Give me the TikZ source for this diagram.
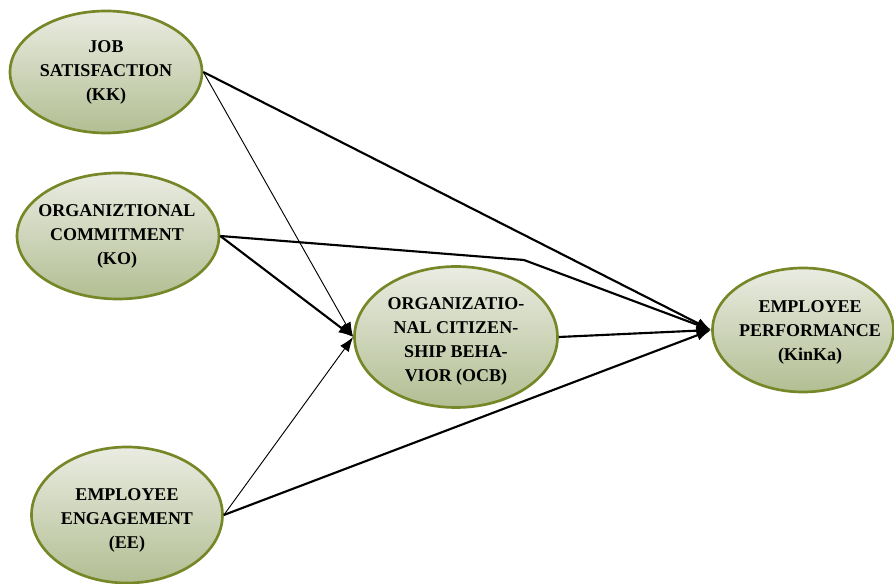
\documentclass[tikz,border=0pt]{standalone}
\usepackage{fontspec}
\setmainfont{Liberation Serif}
\usetikzlibrary{shapes.geometric,arrows.meta}
\definecolor{rim}{RGB}{118,135,40}
\definecolor{topfill}{RGB}{234,236,226}
\definecolor{botfill}{RGB}{178,190,146}
\tikzset{
  ell/.style={ellipse, draw=rim, line width=2pt, top color=topfill, bottom color=botfill, inner sep=0pt},
  lbl/.style={align=center, font=\fontsize{13.5}{18}\selectfont\bfseries, inner sep=0pt},
  thickarrow/.style={line width=1.6pt, -{Latex[length=11pt,width=8pt]}},
  thinarrow/.style={line width=0.7pt, -{Latex[length=11pt,width=8pt]}},
  thickline/.style={line width=1.6pt}
}
\begin{document}
\begin{tikzpicture}[x=0.75pt,y=-0.75pt]
\useasboundingbox (0,0) rectangle (894,584);
% ellipses
\node[ell, minimum width=144pt, minimum height=91.5pt] (js) at (106,72) {};
\node[ell, minimum width=151.5pt, minimum height=94.5pt] (ko) at (118,236) {};
\node[ell, minimum width=152.25pt, minimum height=105.75pt] (ocb) at (456,337) {};
\node[ell, minimum width=135.75pt, minimum height=93pt] (kinka) at (803,330) {};
\node[ell, minimum width=143.25pt, minimum height=102pt] (ee) at (127,515) {};
% labels
\node[lbl] (jst) at (106,72) {JOB\\SATISFACTION\\(KK)};
\node[lbl] (kot) at (117,236) {ORGANIZTIONAL\\COMMITMENT\\(KO)};
\node[lbl] (ocbt) at (456,341) {ORGANIZATIO-\\NAL CITIZEN-\\SHIP BEHA-\\VIOR (OCB)};
\node[lbl] (kinkat) at (810,332) {EMPLOYEE\\PERFORMANCE\\(KinKa)};
\node[lbl] (eet) at (127,520) {EMPLOYEE\\ENGAGEMENT\\(EE)};
% connectors
\coordinate (bend) at (524,260);
\draw[thickarrow] (js.east) -- (kinka.west);
\draw[thinarrow] (js.east) -- (ocb.west);
\draw[thickline] (ko.east) -- (bend);
\draw[thickarrow] (bend) -- (kinka.west);
\draw[thickarrow] (ko.east) -- (ocb.west);
\draw[thinarrow] (ee.east) -- (ocb.west);
\draw[thickarrow] (ee.east) -- (kinka.west);
\draw[thickarrow] (ocb.east) -- (kinka.west);
\end{tikzpicture}
\end{document}
